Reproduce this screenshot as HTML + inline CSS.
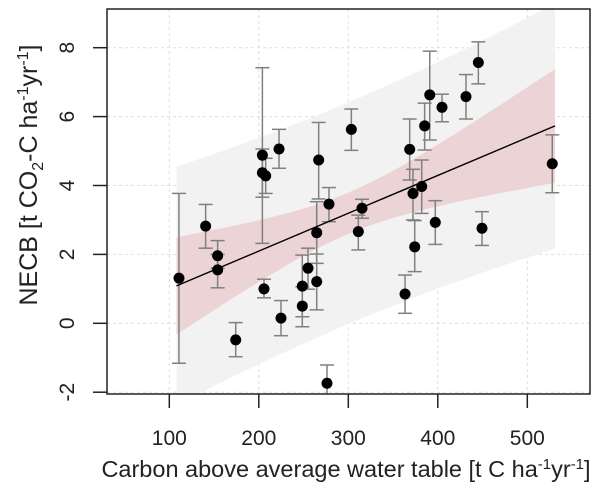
<!DOCTYPE html>
<html><head><meta charset="utf-8"><style>
html,body{margin:0;padding:0;background:#fff;}
svg{display:block;font-family:"Liberation Sans",Arial,sans-serif;}
</style></head><body>
<svg id="chart" width="600" height="489" viewBox="0 0 600 489" xmlns="http://www.w3.org/2000/svg">
<g id="grid"></g>
<g id="bands"></g>
<g id="errs"></g>
<g id="fit"></g>
<g id="pts"></g>
<g id="axes"></g>
<text x="346" y="477" font-size="23.5" text-anchor="middle" fill="#222">Carbon above average water table [t C ha<tspan dy="-8" font-size="15">-1</tspan><tspan dy="8">yr</tspan><tspan dy="-8" font-size="15">-1</tspan><tspan dy="8">]</tspan></text>
<text transform="translate(37,175) rotate(-90)" font-size="25" text-anchor="middle" fill="#222">NECB [t CO<tspan dy="6" font-size="16">2</tspan><tspan dy="-6">-C ha</tspan><tspan dy="-9" font-size="16">-1</tspan><tspan dy="9">yr</tspan><tspan dy="-9" font-size="16">-1</tspan><tspan dy="9">]</tspan></text>
</svg>
<script>
const xVals=[110.8,140.6,154,154,174.2,204,204,207.7,205.8,222.6,224.8,248.6,248.6,255,266.9,264.7,264.7,278.4,276.2,303.4,315.3,311.2,363.4,368.6,372.3,374.2,382,385.3,391,397.2,404.7,431.5,445.3,449.4,527.9];
const yVals=[1.31,2.82,1.96,1.55,-0.48,4.88,4.37,4.28,1.00,5.06,0.15,1.08,0.50,1.60,4.74,2.63,1.21,3.46,-1.74,5.63,3.34,2.66,0.85,5.05,3.77,2.22,3.97,5.73,6.63,2.93,6.27,6.58,7.57,2.76,4.63];
const yUpper=[3.77,3.45,2.40,2.00,0.02,7.42,5.06,4.79,1.28,5.63,0.66,1.98,1.06,2.18,5.83,3.53,2.01,3.94,-1.21,6.22,3.60,3.14,1.40,5.93,4.47,2.98,4.74,6.39,7.90,3.56,6.65,7.22,8.17,3.24,5.47];
const yLower=[-1.16,2.18,1.60,1.03,-0.97,2.32,3.66,3.77,0.74,4.50,-0.36,0.19,-0.10,0.99,3.61,1.74,0.39,2.95,-2.3,5.02,3.05,2.13,0.29,4.16,3.00,1.50,3.19,5.03,5.32,2.29,5.85,5.93,6.95,2.26,3.79];
const xTicks=[100,200,300,400,500];
const yTicks=[-2,0,2,4,6,8];
const fitIntercept=-0.10, fitSlope=0.01098, fitRange=[108,531];
const ciA=0.6, ciB=0.00666, ciMean=300, predC2=10;
const NS="http://www.w3.org/2000/svg";
const L=107,R=590,T=9,B=394;
const sx=x=>79.8+0.895*x;
const sy=y=>323.3-34.45*y;
function el(tag,attrs,parent){const e=document.createElementNS(NS,tag);for(const k in attrs)e.setAttribute(k,attrs[k]);parent.appendChild(e);return e;}
const g=id=>document.getElementById(id);
const defs=el('defs',{},g('chart'));
const cp=el('clipPath',{id:'pc'},defs);el('rect',{x:L,y:T,width:R-L,height:B-T},cp);
g('bands').setAttribute('clip-path','url(#pc)');
g('errs').setAttribute('clip-path','url(#pc)');
xTicks.forEach(t=>{const l=el('line',{x1:sx(t),x2:sx(t),y1:T,y2:B,stroke:'#ddd','stroke-dasharray':'3,3'},g('grid'));

});
yTicks.forEach(t=>{const l=el('line',{x1:L,x2:R,y1:sy(t),y2:sy(t),stroke:'#ddd','stroke-dasharray':'3,3'},g('grid'));

});
const fy=x=>fitIntercept+fitSlope*x;
const ci=x=>Math.sqrt(ciA*ciA+ciB*ciB*(x-ciMean)*(x-ciMean));
const pi=x=>Math.sqrt(predC2+ci(x)*ci(x));
function band(f,fill,name){let up=[],lo=[];const n=40;for(let i=0;i<=n;i++){const x=fitRange[0]+(fitRange[1]-fitRange[0])*i/n;up.push(sx(x)+','+sy(fy(x)+f(x)));lo.unshift(sx(x)+','+sy(fy(x)-f(x)));}
const p=el('polygon',{points:up.concat(lo).join(' '),fill:fill},g('bands'));

}
band(pi,'#f2f2f2','prediction-band');
band(ci,'#ecd3d5','confidence-band');
const fl=el('line',{x1:sx(fitRange[0]),y1:sy(fy(fitRange[0])),x2:sx(fitRange[1]),y2:sy(fy(fitRange[1])),stroke:'#000','stroke-width':1.4},g('fit'));


xVals.forEach((x,i)=>{const X=sx(x),u=sy(yUpper[i]),d=sy(yLower[i]);
const eg=el('g',{stroke:'#808080','stroke-width':1.5},g('errs'));


el('line',{x1:X,x2:X,y1:u,y2:d},eg);el('line',{x1:X-7,x2:X+7,y1:u,y2:u},eg);el('line',{x1:X-7,x2:X+7,y1:d,y2:d},eg);
const c=el('circle',{cx:X,cy:sy(yVals[i]),r:5.5,fill:'#000'},g('pts'));

});
const box=el('rect',{x:L,y:T,width:R-L,height:B-T,fill:'none',stroke:'#222','stroke-width':1.5},g('axes'));


xTicks.forEach(t=>{el('line',{x1:sx(t),x2:sx(t),y1:B,y2:B+14,stroke:'#222','stroke-width':1.5},g('axes'));
const tx=el('text',{x:sx(t),y:445,'font-size':21,'text-anchor':'middle',fill:'#222'},g('axes'));tx.textContent=t;

});
yTicks.forEach(t=>{el('line',{x1:L-14,x2:L,y1:sy(t),y2:sy(t),stroke:'#222','stroke-width':1.5},g('axes'));
const tx=el('text',{transform:'translate(74,'+sy(t)+') rotate(-90)','font-size':21,'text-anchor':'middle',fill:'#222'},g('axes'));tx.textContent=t;

});
</script>
</body></html>
